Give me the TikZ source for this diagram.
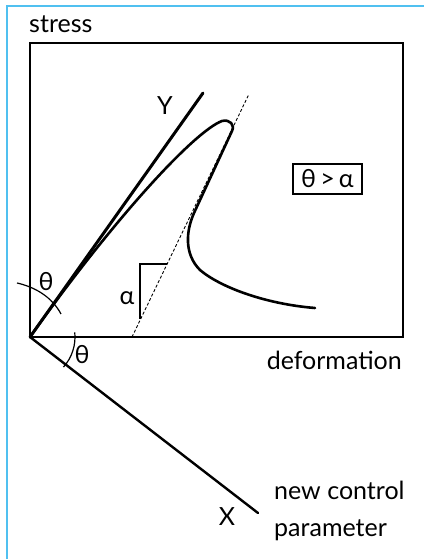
\documentclass[tikz,border=0pt]{standalone}
\usepackage{fontspec}
\setmainfont{Lato}
\definecolor{pagerule}{RGB}{80,192,240}
\begin{document}
\begin{tikzpicture}[x=1pt,y=1pt,font=\fontsize{25}{37}\selectfont,
  thinline/.style={line width=1.2pt},
  axisline/.style={line width=3pt,line cap=round},
  curveline/.style={line width=2.6pt,line cap=round,line join=round},
  label/.style={inner sep=0pt}]
\useasboundingbox (0,0) rectangle (424,559);
% page rule, left and top
\draw[pagerule,line width=2.2pt] (7,0) -- (7,553) -- (424,553);
% frame of the stress-deformation plane
\coordinate (O) at (30,222);
\draw[thinline] (O) rectangle (403,516);
\node[label,anchor=base west] (stress) at (29,526) {stress};
\node[label,anchor=base east] (deform) at (402,189) {deformation};
% the two new axes
\coordinate (Yend) at (203,466);
\coordinate (Xend) at (258,46);
\draw[axisline] (O) -- (Yend);
\draw[line width=2.4pt,line cap=round] (O) -- (Xend);
\node[label] (ylab) at (165,453) {Y};
\node[label] (xlab) at (227,42) {X};
\node[label,anchor=north west,align=left] (ncp) at (274,78) {new control\\parameter};
% tangent at the turning point, with its slope triangle
\coordinate (D0) at (132,222);
\coordinate (D1) at (249,465);
\draw[line width=0.9pt,dash pattern=on 3pt off 2pt] (D0) -- (D1);
\draw[thinline] (140,240) -- (140,295) -- (167,295);
\node[label] (alab) at (127,261) {α};
% response curve
\draw[curveline] (O) .. controls (115,342) and (195,428) .. (222,438)
  .. controls (230,440) and (235,434) .. (232,428)
  -- (194,346) .. controls (186,328) and (184,305) .. (200,289)
  .. controls (220,272) and (265,255) .. (315,251);
% angle marks
\draw[thinline] (17,276) .. controls (35,272) and (52,262) .. (61,245);
\node[label] (tup) at (46,277) {θ};
\draw[thinline] (O) ++(6:45) arc[start angle=6,end angle=-42,radius=45];
\node[label] (tlow) at (82,204) {θ};
\node[draw,line width=2pt,inner sep=0pt,minimum width=69pt,minimum height=30pt] (cond) at (327.5,380) {θ\,>\,α};
\end{tikzpicture}
\end{document}
